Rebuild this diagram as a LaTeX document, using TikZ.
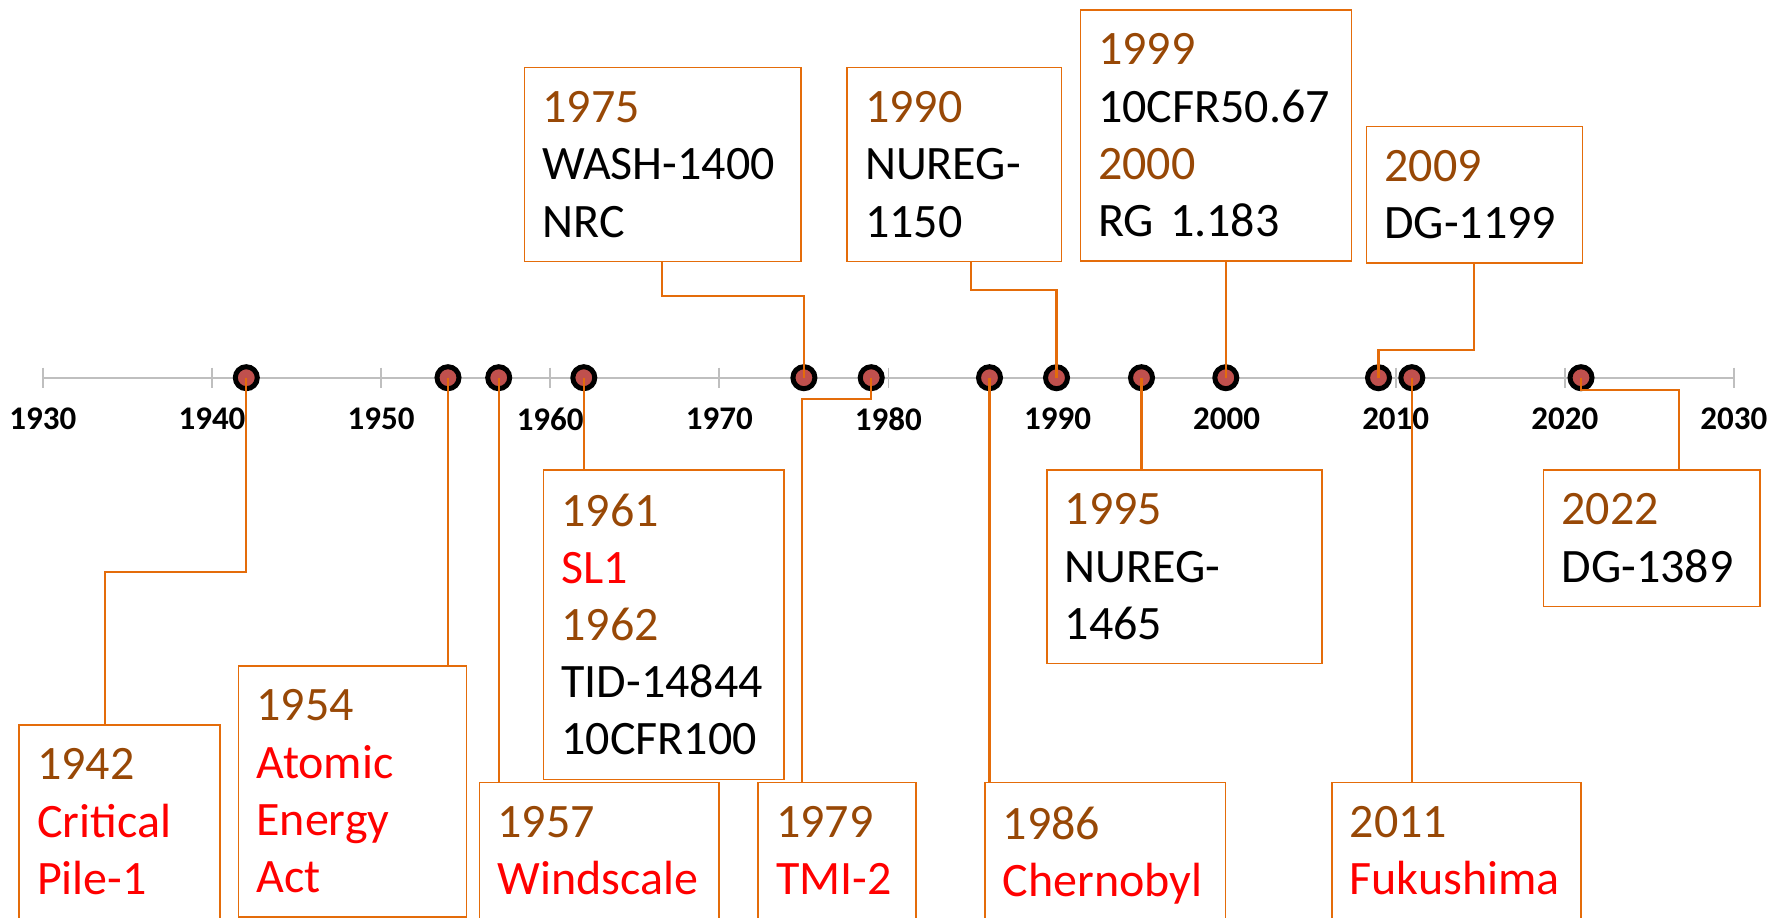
\documentclass[tikz,border=0pt]{standalone}
\usepackage{fontspec}
\setmainfont{Carlito}

\definecolor{boxorange}{HTML}{E46C0A}
\definecolor{yearbrown}{HTML}{984806}
\definecolor{eventred}{HTML}{FF0000}
\definecolor{axisgray}{HTML}{BFBFBF}
\definecolor{dotred}{HTML}{C0504D}

\newcommand{\yrtxt}[1]{\textcolor{yearbrown}{#1}}
\newcommand{\evtxt}[1]{\textcolor{eventred}{#1}}

\tikzset{
  evbox/.style={draw=boxorange, line width=0.75pt, fill=white, anchor=north west, align=left,
    inner xsep=9pt, inner ysep=12pt, font={\fontsize{24}{28.6}\selectfont\exhyphenpenalty=10000\relax}},
  yrdot/.style={circle, draw=black, fill=dotred, line width=2.5pt, minimum size=11pt, inner sep=0pt},
  conn/.style={draw=boxorange, line width=1.1pt},
  tickline/.style={draw=axisgray, line width=0.9pt},
  yearlbl/.style={font=\fontsize{16.5}{19}\selectfont\bfseries, inner sep=0pt}
}

\begin{document}
\begin{tikzpicture}[x=0.5pt, y=-0.5pt]
    \useasboundingbox (0,0) rectangle (1783,917);
    % Axis with ticks every ten years
    \coordinate (axL) at (42.9,377.7); \coordinate (axR) at (1733.9,377.7);
    \draw[tickline] (axL) -- (axR);
    \foreach \yy [count=\i from 0] in {1930,1940,...,2030} {
        \draw[tickline] ({42.9+169.1*\i},367.7) -- ({42.9+169.1*\i},387.7);
        \node[yearlbl] (t\yy) at ({42.9+169.1*\i},419) {\yy};
    }
    % Event markers
    \node[yrdot] (m1942) at (246.3,377.7) {}; \node[yrdot] (m1954) at (448,377.7) {};
    \node[yrdot] (m1957) at (498.7,377.7) {}; \node[yrdot] (m1962) at (583.8,377.7) {};
    \node[yrdot] (m1975) at (803.9,377.7) {}; \node[yrdot] (m1979) at (871.2,377.7) {};
    \node[yrdot] (m1986) at (989.5,377.7) {}; \node[yrdot] (m1990) at (1056.5,377.7) {};
    \node[yrdot] (m1995) at (1141.5,377.7) {}; \node[yrdot] (m2000) at (1225.8,377.7) {};
    \node[yrdot] (m2009) at (1378.5,377.7) {}; \node[yrdot] (m2011) at (1411.8,377.7) {};
    \node[yrdot] (m2021) at (1581,377.7) {};
    % Boxes above the axis
    \node[evbox, text width=120.15pt] (b1975) at (523.7,66.7) {\yrtxt{1975}\\WASH-1400\\NRC};
    \node[evbox, text width=89.2pt] (b1990) at (846.3,66.7) {\yrtxt{1990}\\NUREG-\\1150};
    \node[evbox, text width=117.55pt] (b1999) at (1079.5,9) {\yrtxt{1999}\\10CFR50.67\\\yrtxt{2000}\\RG 1.183};
    \node[evbox, text width=90pt] (b2009) at (1365.6,125.7) {\yrtxt{2009}\\DG-1199};
    % Boxes below the axis
    \node[evbox, text width=102.3pt] (b1961) at (542.7,469) {\yrtxt{1961}\\\evtxt{SL1}\\\yrtxt{1962}\\TID-14844\\10CFR100};
    \node[evbox, text width=119.65pt] (b1995) at (1046,469) {\yrtxt{1995}\\NUREG-\\1465};
    \node[evbox, text width=90.1pt] (b2022) at (1542.8,469) {\yrtxt{2022}\\DG-1389};
    \node[evbox, text width=96pt] (b1954) at (237.7,665) {\yrtxt{1954}\\\evtxt{Atomic}\\\evtxt{Energy}\\\evtxt{Act}};
    \node[evbox, text width=82.5pt] (b1942) at (18.3,724) {\yrtxt{1942}\\\evtxt{Critical}\\\evtxt{Pile-1}};
    \node[evbox, text width=101.8pt] (b1957) at (478.7,781.5) {\yrtxt{1957}\\\evtxt{Windscale}};
    \node[evbox, text width=61pt] (b1979) at (757.3,781.5) {\yrtxt{1979}\\\evtxt{TMI-2}};
    \node[evbox, text width=102.35pt] (b1986) at (984,781.5) {\yrtxt{1986}\\\evtxt{Chernobyl}};
    \node[evbox, text width=106.6pt] (b2011) at (1331,781.5) {\yrtxt{2011}\\\evtxt{Fukushima}};
    % Elbows
    \coordinate (e1942) at (104.6,572); \coordinate (e1975) at (661.8,295.6);
    \coordinate (e1979) at (802.3,399); \coordinate (e1990) at (971,290);
    \coordinate (e2009) at (1474.2,350); \coordinate (e2021) at (1679.2,390);
    % Connectors
    \draw[conn] (m1942.center) |- (e1942) -- (e1942 |- b1942.north);
    \draw[conn] (m1954.center) -- (m1954.center |- b1954.north);
    \draw[conn] (m1957.center) -- (m1957.center |- b1957.north);
    \draw[conn] (m1962.center) -- (m1962.center |- b1961.north);
    \draw[conn] (m1975.center) |- (e1975) -- (e1975 |- b1975.south);
    \draw[conn] (m1979.center) |- (e1979) -- (e1979 |- b1979.north);
    \draw[conn] (m1986.center) -- (m1986.center |- b1986.north);
    \draw[conn] (m1990.center) |- (e1990) -- (e1990 |- b1990.south);
    \draw[conn] (m1995.center) -- (m1995.center |- b1995.north);
    \draw[conn] (m2000.center) -- (m2000.center |- b1999.south);
    \draw[conn] (m2009.center) |- (e2009) -- (e2009 |- b2009.south);
    \draw[conn] (m2011.center) -- (m2011.center |- b2011.north);
    \draw[conn] (m2021.center) |- (e2021) -- (e2021 |- b2022.north);
\end{tikzpicture}
\end{document}
